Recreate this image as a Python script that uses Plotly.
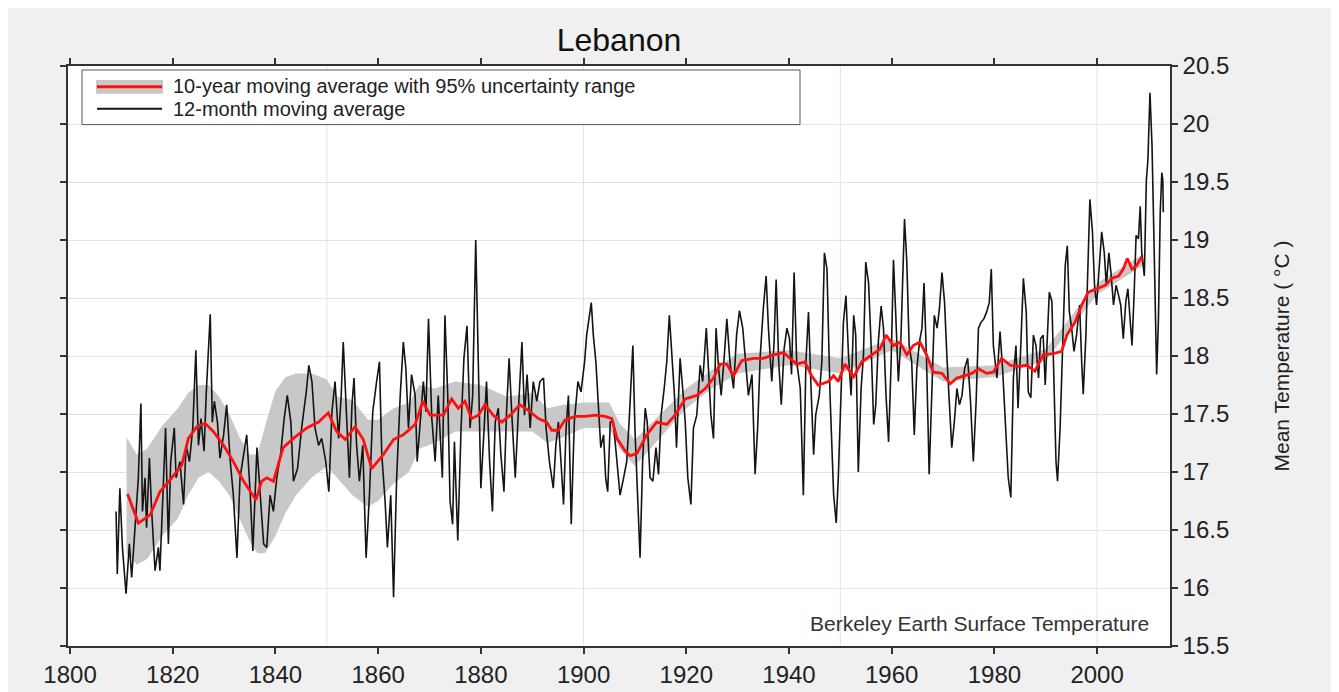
import plotly.graph_objects as go

# ---------------- data ----------------
MONTHLY_YEARS = [
    1808.96, 1809.2, 1809.7, 1810.2, 1810.9, 1811.55, 1812.0, 1812.7, 1813.3, 1813.8,
    1814.1, 1814.6, 1814.9, 1815.45, 1815.9, 1816.55, 1817.2, 1817.5, 1818.2, 1818.6,
    1819.15, 1819.6, 1820.3, 1820.65, 1821.4, 1822.1, 1822.6, 1823.25, 1823.9, 1824.5,
    1825.0, 1825.5, 1826.1, 1826.5, 1827.3, 1827.7, 1828.1, 1828.7, 1829.2, 1829.9,
    1830.5, 1831.2, 1831.8, 1832.5, 1833.1, 1833.8, 1834.4, 1835.1, 1835.6, 1836.4,
    1836.9, 1837.7,
    1838.3, 1838.95, 1839.6, 1840.25, 1841.0, 1841.7, 1842.3, 1843.0, 1843.5, 1844.3,
    1845.1, 1846.0, 1846.5, 1847.1, 1847.7, 1848.4, 1849.0, 1849.8, 1850.4, 1851.0,
    1851.6, 1852.3, 1852.8, 1853.2, 1853.9, 1854.4, 1854.9, 1855.3, 1855.8, 1856.35,
    1857.0, 1857.65, 1858.3, 1858.95, 1859.7, 1860.25, 1860.7, 1861.35, 1861.8, 1862.45,
    1863.0, 1863.6, 1864.3, 1864.9, 1865.4, 1865.9, 1866.5, 1867.2, 1867.6, 1868.2,
    1868.8, 1869.3, 1869.8, 1870.45, 1871.1, 1871.7,
    1872.05, 1872.5, 1873.0, 1873.55, 1874.0, 1874.5, 1874.85, 1875.5, 1876.15, 1876.7,
    1877.3, 1877.9, 1878.4, 1879.0, 1879.5, 1880.0, 1880.7, 1881.1, 1881.7, 1882.25,
    1882.8, 1883.4, 1883.9, 1884.5, 1885.0, 1885.5, 1886.0, 1886.7, 1887.3, 1888.0,
    1888.5, 1889.0, 1889.6, 1890.2, 1890.9, 1891.5, 1892.2, 1892.7, 1893.35, 1894.1,
    1894.6, 1895.1, 1895.6, 1896.1, 1896.6, 1897.05, 1897.6, 1898.2, 1898.9, 1899.5,
    1900.2, 1900.6, 1901.5, 1901.9, 1902.4, 1902.9, 1903.35, 1903.9, 1904.3, 1904.7,
    1905.2, 1905.8, 1906.5, 1907.1,
    1907.8, 1908.4, 1908.9, 1909.6, 1910.0, 1910.5, 1911.0, 1911.5, 1912.0, 1912.4,
    1912.95, 1913.5, 1914.1, 1914.6, 1915.1, 1915.7, 1916.2, 1916.7, 1917.2, 1917.7,
    1918.1, 1918.8, 1919.3, 1919.8, 1920.3, 1920.9, 1921.4, 1922.05, 1922.7, 1923.2,
    1923.9, 1924.3, 1924.8, 1925.3, 1925.8, 1926.3, 1926.8, 1927.4, 1927.9, 1928.5,
    1929.2, 1929.8, 1930.35, 1931.0, 1931.65, 1932.1, 1932.8, 1933.4, 1933.9, 1934.4,
    1935.0, 1935.55, 1936.0, 1936.65, 1937.1, 1937.5, 1938.0, 1938.5, 1939.05, 1939.6,
    1940.1, 1940.5, 1941.0, 1941.5, 1942.2, 1942.8, 1943.3,
    1943.8, 1944.3, 1944.8, 1945.2, 1945.9, 1946.4, 1946.9, 1947.4, 1948.0, 1948.7,
    1949.2, 1949.6, 1950.15, 1950.6, 1951.1, 1951.6, 1952.1, 1952.6, 1953.0, 1953.5,
    1954.05, 1954.5, 1954.95, 1955.5, 1956.0, 1956.5, 1956.9, 1957.4, 1957.95, 1958.4,
    1958.9, 1959.4, 1959.9, 1960.35, 1960.8, 1961.3, 1961.8, 1962.5, 1962.95, 1963.4,
    1963.9, 1964.4, 1964.9, 1965.4, 1965.9, 1966.3, 1966.8, 1967.3, 1967.8, 1968.3,
    1968.85, 1969.3, 1969.8, 1970.3, 1970.8, 1971.3, 1971.7, 1972.2, 1972.7, 1973.2,
    1973.7, 1974.2, 1974.8, 1975.35, 1975.9, 1976.45, 1976.9, 1977.4, 1977.95, 1978.5,
    1979.0, 1979.4,
    1979.8, 1980.5, 1981.1, 1981.6, 1982.3, 1982.7, 1983.2, 1983.7, 1984.2, 1984.6,
    1985.1, 1985.65, 1986.2, 1986.6, 1987.1, 1987.6, 1988.1, 1988.6, 1989.0, 1989.5,
    1989.9, 1990.3, 1990.7, 1991.2, 1991.6, 1992.0, 1992.3, 1992.8, 1993.3, 1993.8,
    1994.2, 1994.6, 1995.05, 1995.5, 1996.0, 1996.6, 1997.0, 1997.3, 1997.8, 1998.2,
    1998.6, 1999.1, 1999.5, 1999.9, 2000.5, 2000.9, 2001.4, 2001.8, 2002.3, 2002.7,
    2003.2, 2003.7, 2004.2, 2004.6, 2005.1, 2005.6, 2006.0, 2006.4, 2006.8, 2007.2,
    2007.6, 2008.05, 2008.4, 2008.7, 2009.2, 2009.6, 2009.9, 2010.3, 2010.7, 2011.1,
    2011.4, 2011.6, 2011.95, 2012.3, 2012.6, 2012.8, 2012.9,
]
MONTHLY_VALUES = [
    16.66, 16.12, 16.86, 16.35, 15.95, 16.38, 16.09, 16.52, 16.95, 17.59,
    16.66, 16.95, 16.52, 17.12, 16.66, 16.15, 16.35, 16.15, 16.95, 17.38,
    16.38, 17.09, 17.38, 16.95, 17.09, 16.72, 17.23, 17.09, 17.38, 18.05,
    17.23, 17.46, 17.18, 17.66, 18.36, 17.43, 17.61, 17.43, 17.12, 17.32,
    17.58, 17.09, 16.80, 16.26, 16.95, 17.15, 17.32, 16.80, 16.32, 17.21,
    16.92, 16.38,
    16.35, 16.80, 16.66, 16.95, 17.15, 17.46, 17.66, 17.43, 16.92, 17.03,
    17.38, 17.69, 17.92, 17.78, 17.38, 17.23, 17.29, 17.09, 16.83, 17.52,
    17.78, 17.29, 17.66, 18.12, 17.43, 16.95, 17.58, 17.81, 17.23, 16.92,
    17.23, 16.26, 16.80, 17.52, 17.78, 17.95, 17.15, 16.75, 16.35, 16.80,
    15.92, 16.95, 17.66, 18.12, 17.89, 17.38, 17.84, 17.66, 17.09, 17.43,
    17.78, 17.52, 18.32, 17.46, 17.09, 17.66,
    17.38, 16.95, 18.35, 17.66, 16.75, 16.55, 17.26, 16.41, 17.38, 17.98,
    18.26, 17.38, 17.66, 19.00, 17.95, 16.86, 17.43, 17.78, 17.09, 16.66,
    17.43, 17.55, 17.15, 16.83, 17.52, 17.98, 17.52, 16.95, 17.52, 18.12,
    17.49, 17.84, 17.38, 17.78, 17.61, 17.78, 17.81, 17.38, 17.09, 16.86,
    17.23, 17.43, 17.09, 16.72, 17.38, 17.66, 16.55, 17.43, 17.78, 17.69,
    17.95, 18.18, 18.46, 18.18, 17.95, 17.49, 17.21, 17.32, 16.95, 16.83,
    17.43, 17.43, 17.12, 16.80,
    16.95, 17.09, 17.46, 18.09, 17.38, 16.75, 16.26, 17.09, 17.55, 17.43,
    16.95, 16.92, 17.21, 16.98, 17.49, 17.72, 17.95, 18.35, 17.95, 17.66,
    17.21, 17.98, 17.72, 17.43, 16.95, 16.72, 17.38, 17.49, 17.92, 17.78,
    18.24, 17.89, 17.49, 17.29, 18.24, 17.89, 17.66, 18.00, 18.32, 17.95,
    17.72, 18.18, 18.39, 18.24, 17.89, 17.66, 17.84, 16.98, 17.38, 18.00,
    18.41, 18.69, 18.24, 17.78, 18.12, 18.66, 17.95, 17.58, 18.06, 18.24,
    18.15, 17.84, 18.72, 17.95, 17.72, 16.80, 17.95,
    18.38, 17.72, 17.15, 17.49, 17.66, 17.95, 18.89, 18.75, 17.66, 16.80,
    16.56, 16.95, 17.61, 18.29, 18.52, 18.00, 17.66, 18.35, 18.18, 17.00,
    17.72, 18.00, 18.81, 18.63, 18.09, 17.41, 17.58, 18.12, 18.43, 18.24,
    17.66, 17.26, 17.95, 18.83, 18.35, 17.78, 18.15, 19.18, 18.81, 18.09,
    17.95, 17.32, 17.89, 18.12, 18.24, 18.63, 17.95, 16.98, 17.66, 18.35,
    18.24, 18.41, 18.72, 18.46, 17.95, 17.55, 17.21, 17.43, 17.72, 17.58,
    17.66, 17.89, 17.98, 17.61, 17.09, 17.61, 18.24, 18.29, 18.32, 18.38,
    18.46, 18.75,
    18.09, 17.81, 18.21, 17.89, 17.24, 16.95, 16.78, 17.81, 18.09, 17.55,
    18.04, 18.67, 18.38, 17.69, 17.64, 18.18, 18.09, 17.81, 18.15, 18.18,
    17.75, 18.15, 18.55, 18.47, 17.72, 17.09, 16.92, 17.38, 18.09, 18.78,
    18.95, 18.38, 18.24, 18.04, 18.18, 18.44, 17.95, 17.67, 18.15, 18.67,
    19.35, 19.07, 18.61, 18.44, 18.78, 19.07, 18.89, 18.61, 18.89, 18.72,
    18.44, 18.61, 18.52, 18.44, 18.15, 18.47, 18.58, 18.32, 18.09, 18.52,
    19.04, 19.01, 19.29, 18.89, 18.69, 19.52, 19.69, 20.27, 19.81, 18.95,
    18.09, 17.84, 18.32, 19.24, 19.58, 19.52, 19.24,
]

DECADAL_YEARS = [
    1811.2, 1813.3, 1815.6, 1817.5, 1819.8, 1821.75, 1823.05, 1824.7, 1826.3, 1827.9,
    1829.9, 1831.8, 1833.8, 1836.2, 1837.3, 1838.3, 1839.6, 1841.5, 1843.5, 1846.1,
    1848.4, 1850.3, 1851.9, 1853.6, 1855.5, 1857.1, 1858.75, 1861.0, 1863.0, 1864.9,
    1867.2, 1868.7, 1870.1, 1872.7, 1874.3, 1875.6, 1876.9, 1878.2, 1879.5, 1880.8,
    1882.4, 1884.1, 1885.7, 1887.6, 1889.3, 1891.2, 1892.8, 1893.8, 1895.1, 1896.4,
    1898.4, 1900.3, 1902.25, 1904.2, 1905.5, 1906.5, 1908.1, 1909.1, 1910.4, 1912.3,
    1914.25, 1916.2, 1917.8, 1919.8, 1922.05, 1923.7, 1925.3, 1926.6, 1927.9, 1929.2,
    1930.8, 1933.1, 1935.0, 1937.0, 1938.9, 1940.2, 1941.5, 1943.1, 1944.4, 1945.7,
    1947.7, 1948.7, 1949.6, 1950.9, 1952.6, 1954.2, 1956.1, 1957.75, 1958.9, 1960.35,
    1961.6, 1962.95, 1964.2, 1965.5, 1966.8, 1968.1, 1969.8, 1971.4, 1972.7, 1974.0,
    1975.6, 1976.9, 1978.5, 1979.8, 1981.4, 1983.1, 1984.7, 1986.3, 1987.9, 1989.5,
    1991.5, 1993.1, 1994.1, 1995.7, 1997.0, 1998.3, 1999.9, 2001.6, 2002.9, 2004.2,
    2005.1, 2005.9, 2006.8, 2007.7, 2008.5, 2009.0,
]
DECADAL_VALUES = [
    16.81, 16.56, 16.63, 16.83, 16.95, 17.06, 17.29, 17.39, 17.42, 17.35,
    17.23, 17.09, 16.92, 16.76, 16.92, 16.95, 16.92, 17.21, 17.29, 17.38,
    17.43, 17.51, 17.35, 17.28, 17.39, 17.28, 17.03, 17.15, 17.28, 17.32,
    17.41, 17.61, 17.49, 17.49, 17.63, 17.55, 17.61, 17.46, 17.49, 17.58,
    17.49, 17.43, 17.49, 17.58, 17.53, 17.46, 17.43, 17.36, 17.36, 17.45,
    17.48, 17.48, 17.49, 17.48, 17.46, 17.29, 17.18, 17.14, 17.16, 17.32,
    17.43, 17.41, 17.49, 17.63, 17.66, 17.72, 17.81, 17.93, 17.93, 17.83,
    17.96, 17.98, 17.98, 18.01, 18.03, 17.98, 17.93, 17.95, 17.83, 17.75,
    17.78, 17.83, 17.78, 17.93, 17.82, 17.95, 18.01, 18.06, 18.18, 18.09,
    18.12, 18.01, 18.09, 18.12, 18.01, 17.86, 17.85, 17.76, 17.81, 17.83,
    17.85, 17.89, 17.85, 17.86, 17.98, 17.92, 17.91, 17.92, 17.87, 18.01,
    18.02, 18.04, 18.18, 18.29, 18.44, 18.55, 18.58, 18.61, 18.67, 18.69,
    18.75, 18.84, 18.75, 18.78, 18.84, 18.82,
]

BAND_YEARS = [
    1811, 1813, 1815, 1818, 1821, 1823, 1825, 1827, 1829, 1831,
    1833, 1835, 1836.5, 1838, 1840, 1842, 1844, 1847, 1850, 1852,
    1855, 1858, 1860, 1863, 1866, 1868, 1871, 1875, 1880, 1885,
    1890, 1893, 1896, 1900, 1905, 1907, 1910, 1915, 1920, 1925,
    1930, 1940, 1950, 1960, 1970, 1980, 1990, 2000, 2009,
]
BAND_LOW = [
    16.30, 16.20, 16.25, 16.45, 16.60, 16.80, 16.95, 17.00, 16.92, 16.80,
    16.60, 16.40, 16.30, 16.30, 16.45, 16.65, 16.80, 16.95, 17.05, 16.95,
    16.80, 16.70, 16.75, 16.90, 17.00, 17.20, 17.25, 17.35, 17.35, 17.35,
    17.35, 17.25, 17.30, 17.38, 17.38, 17.20, 17.05, 17.30, 17.55, 17.72,
    17.85, 17.92, 17.85, 18.05, 17.78, 17.82, 17.96, 18.53, 18.78,
]
BAND_HIGH = [
    17.30, 17.15, 17.20, 17.40, 17.55, 17.68, 17.75, 17.75, 17.65, 17.50,
    17.30, 17.15, 17.15, 17.40, 17.70, 17.82, 17.85, 17.85, 17.80, 17.65,
    17.62, 17.45, 17.45, 17.55, 17.60, 17.75, 17.72, 17.78, 17.75, 17.65,
    17.68, 17.55, 17.58, 17.60, 17.60, 17.42, 17.28, 17.50, 17.72, 17.88,
    18.02, 18.05, 17.98, 18.15, 17.90, 17.92, 18.06, 18.63, 18.88,
]

X_TICKS = [1800, 1820, 1840, 1860, 1880, 1900, 1920, 1940, 1960, 1980, 2000]
X_GRID_YEARS = [1850, 1900, 1950, 2000]
Y_TICKS = [15.5, 16, 16.5, 17, 17.5, 18, 18.5, 19, 19.5, 20, 20.5]

TITLE = "Lebanon"
Y_TITLE = "Mean Temperature ( °C )"
LEGEND_LABELS = ["10-year moving average with 95% uncertainty range", "12-month moving average"]
SOURCE = "Berkeley Earth Surface Temperature"

# ---------------- figure ----------------
FONT = "Liberation Sans, Arial, sans-serif"
BAND_COLOR = "#c8c8c8"
RED = "#ff1010"
BLACK = "#141414"

fig = go.Figure()

fig.add_trace(go.Scatter(x=BAND_YEARS, y=BAND_LOW, mode="lines",
                         line=dict(width=0, color=BAND_COLOR), showlegend=False,
                         hoverinfo="skip"))
fig.add_trace(go.Scatter(x=BAND_YEARS, y=BAND_HIGH, mode="lines", fill="tonexty",
                         fillcolor=BAND_COLOR, line=dict(width=0, color=BAND_COLOR),
                         showlegend=False, hoverinfo="skip"))
fig.add_trace(go.Scatter(x=MONTHLY_YEARS, y=MONTHLY_VALUES, mode="lines",
                         line=dict(color=BLACK, width=1.6), showlegend=False,
                         name=LEGEND_LABELS[1]))
fig.add_trace(go.Scatter(x=DECADAL_YEARS, y=DECADAL_VALUES, mode="lines",
                         line=dict(color=RED, width=2.8), showlegend=False,
                         name=LEGEND_LABELS[0]))

# vertical grid lines every 50 years
for gx in X_GRID_YEARS:
    fig.add_shape(type="line", xref="x", yref="paper", x0=gx, x1=gx, y0=0, y1=1,
                  line=dict(color="#e3e3e3", width=1), layer="below")

# manual legend (positions relative to the plot area, in window pixels)
PL, PT, PW, PH = 68.0, 66.0, 1102.0, 584.0
def px(xp):
    return (xp - PL) / PW
def py(yp):
    return 1 - (yp - PT) / PH

fig.add_shape(type="rect", xref="paper", yref="paper", x0=px(82), x1=px(800),
              y0=py(125), y1=py(70), line=dict(color="#555555", width=1),
              fillcolor="white", layer="above")
fig.add_shape(type="rect", xref="paper", yref="paper", x0=px(96), x1=px(163),
              y0=py(94), y1=py(80), line=dict(width=0), fillcolor=BAND_COLOR, layer="above")
fig.add_shape(type="line", xref="paper", yref="paper", x0=px(97), x1=px(162),
              y0=py(87), y1=py(87), line=dict(color=RED, width=3), layer="above")
fig.add_shape(type="line", xref="paper", yref="paper", x0=px(97), x1=px(162),
              y0=py(109), y1=py(109), line=dict(color=BLACK, width=2), layer="above")
for lbl, yy in zip(LEGEND_LABELS, [86.5, 109.5]):
    fig.add_annotation(text=lbl, xref="paper", yref="paper", x=px(171), y=py(yy),
                       xanchor="left", yanchor="middle", showarrow=False,
                       font=dict(family=FONT, size=20, color="#222222"))

fig.add_annotation(text=SOURCE, xref="paper", yref="paper", x=px(1151), y=py(627),
                   xanchor="right", yanchor="middle", showarrow=False,
                   font=dict(family=FONT, size=21, color="#333333"))

fig.update_layout(
    width=1339, height=692,
    margin=dict(l=60, r=177, t=58, b=50),
    paper_bgcolor="#f0f0f0", plot_bgcolor="white",
    title=dict(text=TITLE, x=(60 + 1162) / 2 / 1339, xanchor="center",
               y=1 - 32 / 692, yanchor="middle",
               font=dict(family=FONT, size=32, color="#111111")),
    font=dict(family=FONT, color="#222222"),
    showlegend=False,
)
fig.update_xaxes(range=[1799.6, 2014.2], tickvals=X_TICKS, ticks="outside", ticklen=6,
                 tickwidth=1.5, tickcolor="#333333", showline=True, linecolor="#333333",
                 linewidth=1.5, mirror="ticks", showgrid=False, zeroline=False,
                 tickfont=dict(family=FONT, size=24, color="#222222"))
fig.update_yaxes(range=[15.5, 20.5], tickvals=Y_TICKS, ticktext=[f"{v:g}" for v in Y_TICKS],
                 side="right", ticks="outside", ticklen=6, tickwidth=1.5,
                 tickcolor="#333333", showline=True, linecolor="#333333", linewidth=1.5,
                 mirror="ticks", showgrid=True, gridcolor="#e3e3e3", gridwidth=1,
                 zeroline=False, tickfont=dict(family=FONT, size=24, color="#222222"),
                 title=dict(text=Y_TITLE, font=dict(family=FONT, size=21, color="#222222"),
                            standoff=46))

fig.write_html("out.html")
